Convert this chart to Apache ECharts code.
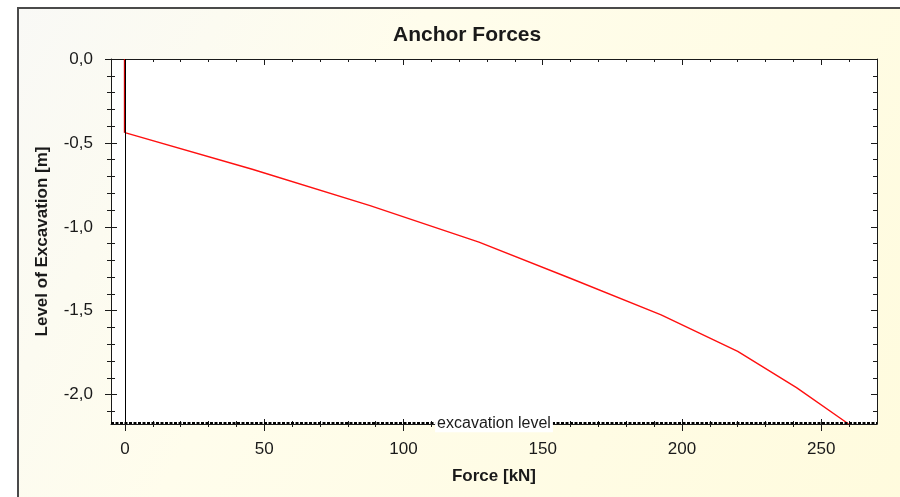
<!DOCTYPE html>
<html>
<head>
<meta charset="utf-8">
<script src="https://cdn.jsdelivr.net/npm/echarts@6/dist/echarts.min.js"></script>
<style>
  html, body { margin: 0; padding: 0; background: #ffffff; }
  #chart { width: 900px; height: 497px; }
</style>
</head>
<body>
<div id="chart"></div>
<script>
// Anchor force vs. excavation level
const levels = [-0.44, -0.657, -0.874, -1.091, -1.308, -1.525, -1.742, -1.958, -2.175];
const forces = [0.3, 45.7, 88.0, 127.1, 160.1, 192.5, 220.0, 241.1, 259.8];

// initial segment before the anchor takes load
const prestressLevels = [0, -0.44];
const prestressForces = [0, 0];

const excavationLevel = -2.175;
const excavationText = 'excavation level';

const forceTicks = [0, 50, 100, 150, 200, 250];
const forceMinorTicks = [10, 20, 30, 40, 60, 70, 80, 90, 110, 120, 130, 140, 160, 170, 180, 190, 210, 220, 230, 240, 260];
const levelTicks = [0, -0.5, -1.0, -1.5, -2.0];
const levelMinorTicks = [-0.1, -0.2, -0.3, -0.4, -0.6, -0.7, -0.8, -0.9, -1.1, -1.2, -1.3, -1.4, -1.6, -1.7, -1.8, -1.9, -2.1];

const FONT = 'Liberation Sans';
const INK = '#1a1a1a';

const chart = echarts.init(document.getElementById('chart'), null, { renderer: 'canvas' });

function axis(kind, position, ticks, len, inside, extra) {
  const base = {
    type: 'value',
    position: position,
    min: kind === 'x' ? -5 : excavationLevel,
    max: kind === 'x' ? 270 : 0,
    axisLine: { show: false, onZero: false, lineStyle: { color: INK, width: 1 } },
    axisTick: { show: true, inside: inside, length: len, customValues: ticks, lineStyle: { color: INK, width: 1 } },
    axisLabel: { show: false },
    splitLine: { show: false },
    minorTick: { show: false },
    silent: true
  };
  return Object.assign(base, extra || {});
}

const xAxes = [
  axis('x', 'bottom', forceTicks, 7, false, {
    axisLine: { show: true, onZero: false, lineStyle: { color: INK, width: 1 } },
    axisLabel: {
      show: true, customValues: forceTicks, margin: 17,
      fontFamily: FONT, fontSize: 17, color: INK
    },
    name: 'Force [kN]', nameLocation: 'middle', nameGap: 44,
    nameTextStyle: { fontFamily: FONT, fontSize: 17, fontWeight: 'bold', color: INK }
  }),
  axis('x', 'bottom', forceTicks, 5, true),
  axis('x', 'bottom', forceMinorTicks, 3, false),
  axis('x', 'bottom', forceMinorTicks, 3, true),
  axis('x', 'top', forceTicks, 6, true, {
    axisLine: { show: true, onZero: false, lineStyle: { color: INK, width: 1 } }
  }),
  axis('x', 'top', forceMinorTicks, 3, true)
];

const yAxes = [
  axis('y', 'left', levelTicks, 6, false, {
    axisLine: { show: true, onZero: false, lineStyle: { color: INK, width: 1 } },
    axisLabel: {
      show: true, customValues: levelTicks, margin: 18,
      fontFamily: FONT, fontSize: 17, color: INK,
      formatter: v => v.toFixed(1).replace('.', ',')
    },
    name: 'Level of Excavation [m]', nameLocation: 'middle', nameGap: 60, nameRotate: 90,
    nameTextStyle: { fontFamily: FONT, fontSize: 17, fontWeight: 'bold', color: INK }
  }),
  axis('y', 'left', levelTicks, 6, true),
  axis('y', 'left', levelMinorTicks, 4, false),
  axis('y', 'left', levelMinorTicks, 4, true),
  axis('y', 'right', levelTicks, 6, true, {
    axisLine: { show: true, onZero: false, lineStyle: { color: INK, width: 1 } }
  }),
  axis('y', 'right', levelMinorTicks, 4, true)
];

chart.setOption({
  animation: false,
  backgroundColor: 'transparent',
  graphic: [
    {
      type: 'rect', z: -100, silent: true,
      shape: { x: 18, y: 8, width: 900, height: 500 },
      style: {
        fill: new echarts.graphic.LinearGradient(0, 0, 1, 1, [
          { offset: 0, color: '#f9f9f6' },
          { offset: 0.35, color: '#fffdec' },
          { offset: 1, color: '#fffbdd' }
        ])
      }
    },
    {
      type: 'polyline', z: -99, silent: true,
      shape: { points: [[18, 497], [18, 8], [900, 8]] },
      style: { stroke: '#4a4a4a', lineWidth: 2, fill: null }
    }
  ],
  title: {
    text: 'Anchor Forces',
    left: 388, top: 20,
    textStyle: { fontFamily: FONT, fontSize: 21, fontWeight: 'bold', color: INK }
  },
  grid: {
    left: 111, top: 59, right: 23, bottom: 73,
    show: true, backgroundColor: '#ffffff', borderWidth: 0
  },
  xAxis: xAxes,
  yAxis: yAxes,
  series: [
    {
      // zero-force reference line and the excavation level marker
      type: 'line', data: [], z: 1,
      markLine: {
        silent: true, symbol: 'none', animation: false,
        data: [
          {
            xAxis: 0,
            lineStyle: { color: '#000000', width: 1, type: 'solid' },
            label: { show: false }
          },
          {
            yAxis: excavationLevel,
            lineStyle: { color: '#000000', width: 2, type: [3, 1.5] },
            label: {
              show: true, position: 'middle', formatter: excavationText,
              verticalAlign: 'middle', distance: 0,
              fontFamily: FONT, fontSize: 16, color: INK,
              backgroundColor: '#ffffff', padding: [1, 2, 1, 2]
            }
          }
        ]
      }
    },
    {
      type: 'line', z: 3,
      data: prestressForces.map((f, i) => [f, prestressLevels[i]]),
      showSymbol: false, symbol: 'none',
      lineStyle: { color: '#c80000', width: 2.2 }
    },
    {
      type: 'line', z: 3,
      data: forces.map((f, i) => [f, levels[i]]),
      showSymbol: false, symbol: 'none',
      lineStyle: { color: '#ff1010', width: 1.4 }
    }
  ]
});
</script>
</body>
</html>
